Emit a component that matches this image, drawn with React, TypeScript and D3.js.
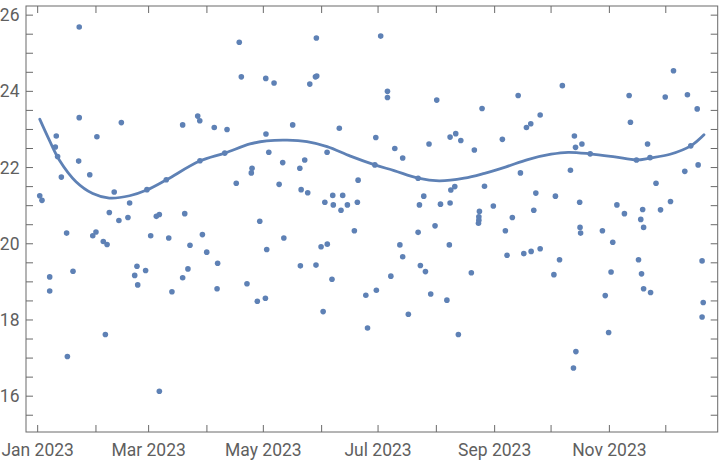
import React, { useRef, useEffect } from "react";
import * as d3 from "d3";

// days since 2023-01-01 and the measured value for every dot
const pointDays = [
  1.1, 2.3, 6.4, 6.4, 9.4, 9.9, 10.6, 12.6, 15.4, 15.8, 18.8, 21.8, 22.1, 22.1, 27.7, 29.3, 31.0, 31.5,
  34.9, 36.0, 36.9, 38.1, 40.7, 43.2, 44.5, 48.0, 48.9, 51.6, 52.8, 53.2, 57.4, 58.1, 60.1, 63.1, 64.7,
  64.7, 68.4, 69.7, 71.4, 77.1, 77.1, 78.2, 79.9, 81.0, 85.1, 86.2, 86.3, 87.6, 89.9, 93.9, 95.4, 95.7,
  99.5, 100.7, 105.6, 107.2, 108.3, 111.3, 113.6, 114.0, 116.8, 118.1, 121.1, 121.3, 121.4, 121.8, 122.9,
  125.7, 128.4, 130.3, 130.9, 135.6, 139.4, 139.7, 140.1, 142.0, 143.6, 144.7, 147.7, 148.0, 148.2, 148.4,
  150.7, 151.8, 152.7, 153.9, 154.0, 156.5, 156.9, 157.2, 160.4, 161.3, 162.2, 164.7, 168.4, 170.0, 170.4,
  174.5, 175.4, 179.3, 179.8, 180.1, 182.4, 186.0, 186.0, 187.8, 189.9, 192.6, 194.1, 194.1, 197.1, 202.3,
  202.3, 203.0, 203.5, 205.3, 206.2, 208.1, 209.0, 211.3, 212.2, 214.2, 217.6, 218.9, 219.3, 219.3, 219.7,
  221.8, 222.3, 223.7, 225.0, 230.6, 232.2, 234.4, 234.6, 234.6, 234.9, 236.3, 237.6, 242.3, 247.1, 248.7,
  249.6, 252.4, 255.5, 256.7, 258.5, 259.9, 262.2, 262.4, 263.8, 264.9, 267.2, 267.2, 274.5, 275.3, 277.5,
  279.0, 283.3, 284.9, 285.4, 286.0, 286.2, 288.2, 288.4, 288.7, 289.4, 293.8, 300.3, 301.8, 303.6, 304.9,
  305.8, 308.0, 312.0, 314.5, 315.2, 318.4, 319.5, 320.7, 321.1, 321.7, 322.2, 322.2, 324.3, 325.6, 325.9,
  328.8, 331.2, 333.7, 336.5, 338.1, 344.1, 345.5, 347.3, 350.7, 351.2, 353.3, 353.3, 353.9,
];

const pointValues = [
  21.26, 21.14, 19.13, 18.76, 22.54, 22.83, 22.29, 21.75, 20.28, 17.04, 19.28, 22.17, 25.69, 23.31, 21.81,
  20.21, 20.31, 22.81, 20.06, 17.62, 19.98, 20.82, 21.36, 20.61, 23.18, 20.69, 21.07, 19.17, 19.41, 18.92,
  19.3, 21.42, 20.21, 20.72, 20.77, 16.13, 21.68, 20.15, 18.74, 23.12, 19.11, 20.79, 19.34, 19.96, 23.35,
  23.23, 22.18, 20.24, 19.78, 23.05, 18.82, 19.49, 22.38, 23.0, 21.59, 25.29, 24.38, 18.95, 21.86, 21.98,
  18.49, 20.59, 18.57, 24.34, 22.88, 19.85, 22.4, 24.22, 21.56, 22.13, 20.15, 23.12, 21.98, 19.42, 21.42,
  22.2, 21.34, 24.19, 24.38, 19.44, 25.4, 24.4, 19.92, 18.22, 21.09, 22.4, 19.99, 19.07, 21.27, 21.02,
  23.03, 20.88, 21.27, 21.02, 20.34, 21.09, 21.67, 18.65, 17.79, 22.07, 22.79, 18.78, 25.45, 24.0, 23.84,
  19.15, 22.5, 19.97, 22.25, 19.66, 18.15, 21.72, 20.3, 21.02, 19.43, 21.25, 19.27, 22.62, 18.68, 20.47,
  23.77, 21.04, 18.52, 19.97, 22.8, 21.07, 21.41, 21.5, 22.89, 17.62, 22.71, 19.24, 22.46, 20.54, 20.62,
  20.71, 20.85, 23.55, 21.51, 20.99, 22.74, 20.34, 19.7, 20.69, 23.89, 21.86, 19.74, 23.05, 23.15, 19.8,
  20.88, 21.33, 23.38, 19.87, 19.19, 21.25, 19.58, 24.15, 21.93, 16.74, 22.83, 22.53, 17.17, 21.09, 20.43,
  20.28, 22.62, 22.36, 20.34, 18.64, 17.67, 19.26, 20.04, 21.02, 20.79, 23.89, 23.19, 22.2, 19.58, 20.64,
  19.21, 20.9, 20.43, 18.82, 22.62, 22.26, 18.72, 21.59, 20.89, 23.85, 21.11, 24.54, 21.9, 23.91, 22.57,
  23.54, 22.07, 19.55, 18.08, 18.46,
];

// smooth fit
const fitDays = [
  1.1, 6.2, 11.5, 20.4, 29.3, 38.1, 48.9, 58.0, 68.5, 86.2, 99.5, 112.9, 121.8, 132.6, 143.2, 153.9,
  166.3, 179.3, 189.5, 202.3, 213.5, 226.8, 237.6, 249.1, 260.6, 273.0, 282.1, 293.8, 306.9, 318.4,
  325.6, 336.3, 347.3, 354.3,
];
const fitValues = [
  23.27, 22.72, 22.2, 21.63, 21.32, 21.2, 21.26, 21.41, 21.68, 22.17, 22.38, 22.62, 22.7, 22.72, 22.68,
  22.55, 22.3, 22.07, 21.92, 21.72, 21.65, 21.72, 21.85, 22.02, 22.21, 22.35, 22.4, 22.36, 22.28, 22.2,
  22.25, 22.35, 22.57, 22.86,
];

const yLabels = [16, 18, 20, 22, 24, 26];
const xLabelMonths = [0, 2, 4, 6, 8, 10];

const DAY = 86400000;
const start = Date.UTC(2023, 0, 1);
const toDate = (d: number) => new Date(start + d * DAY);

export default function App() {
  const ref = useRef<SVGSVGElement | null>(null);
  const width = 720;
  const height = 463;

  useEffect(() => {
    const svg = d3.select(ref.current);
    svg.selectAll("*").remove();

    const left = 26;
    const right = 717.7;
    const top = 6;
    const bottom = 432;
    const blue = "#5E81B5";
    const frameColor = "#6a6a6a";
    const labelColor = "#5f5f5f";

    const x = d3.scaleUtc().domain([toDate(-6.2), toDate(361.6)]).range([left, right]);
    const y = d3.scaleLinear().domain([15.06, 26.24]).range([bottom, top]);

    // frame
    svg
      .append("rect")
      .attr("x", left)
      .attr("y", top)
      .attr("width", right - left)
      .attr("height", bottom - top)
      .attr("fill", "none")
      .attr("stroke", frameColor)
      .attr("stroke-width", 1);

    // month ticks top and bottom
    const months = d3.utcMonth.range(new Date(Date.UTC(2023, 0, 1)), new Date(Date.UTC(2024, 0, 1)));
    const tickG = svg.append("g").attr("stroke", frameColor).attr("stroke-width", 1);
    months.forEach((m) => {
      const px = x(m);
      tickG.append("line").attr("x1", px).attr("x2", px).attr("y1", bottom).attr("y2", bottom - 7);
      tickG.append("line").attr("x1", px).attr("x2", px).attr("y1", top).attr("y2", top + 7);
    });

    // half-unit ticks left and right
    d3.range(15.5, 26.01, 0.5).forEach((v) => {
      const py = y(v);
      tickG.append("line").attr("x1", left).attr("x2", left + 7).attr("y1", py).attr("y2", py);
      tickG.append("line").attr("x1", right).attr("x2", right - 7).attr("y1", py).attr("y2", py);
    });

    const fmt = d3.utcFormat("%b %Y");
    svg
      .append("g")
      .selectAll("text")
      .data(xLabelMonths)
      .enter()
      .append("text")
      .attr("x", (m) => x(new Date(Date.UTC(2023, m, 1))))
      .attr("y", 456)
      .attr("text-anchor", "middle")
      .attr("fill", labelColor)
      .style("font-family", "Roboto, sans-serif")
      .style("font-size", "17.5px")
      .text((m) => fmt(new Date(Date.UTC(2023, m, 1))));

    svg
      .append("g")
      .selectAll("text")
      .data(yLabels)
      .enter()
      .append("text")
      .attr("x", 19.5)
      .attr("y", (v) => y(v))
      .attr("dy", "0.35em")
      .attr("text-anchor", "end")
      .attr("fill", labelColor)
      .style("font-family", "Roboto, sans-serif")
      .style("font-size", "17.5px")
      .text((v) => String(v));

    // dots
    svg
      .append("g")
      .selectAll("circle")
      .data(pointDays.map((d, i) => ({ d, v: pointValues[i] })))
      .enter()
      .append("circle")
      .attr("cx", (p) => x(toDate(p.d)))
      .attr("cy", (p) => y(p.v))
      .attr("r", 2.8)
      .attr("fill", blue);

    // fit line
    const fit = fitDays.map((d, i) => ({ d, v: fitValues[i] }));
    const line = d3
      .line<{ d: number; v: number }>()
      .x((p) => x(toDate(p.d)))
      .y((p) => y(p.v))
      .curve(d3.curveCatmullRom.alpha(0.5));
    svg
      .append("path")
      .datum(fit)
      .attr("fill", "none")
      .attr("stroke", blue)
      .attr("stroke-width", 2.8)
      .attr("stroke-linecap", "round")
      .attr("d", line);
  }, []);

  return (
    <div style={{ position: "absolute", left: 0, top: 0 }}>
      <svg ref={ref} width={width} height={height} style={{ display: "block", background: "#fff" }} />
    </div>
  );
}
